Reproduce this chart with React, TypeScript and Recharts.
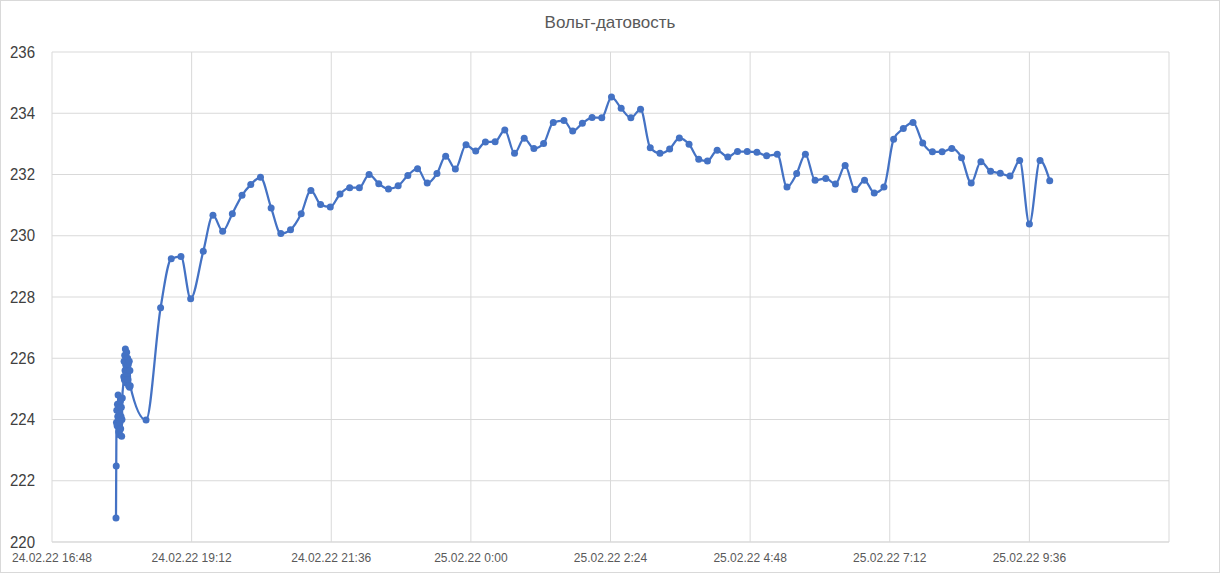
import { CartesianGrid, Line, LineChart, XAxis, YAxis } from "recharts";

// x tick labels (one every 2h24m) and y ticks
const tickLabels = [
  "24.02.22 16:48",
  "24.02.22 19:12",
  "24.02.22 21:36",
  "25.02.22 0:00",
  "25.02.22 2:24",
  "25.02.22 4:48",
  "25.02.22 7:12",
  "25.02.22 9:36",
];
const yTicks = [220, 222, 224, 226, 228, 230, 232, 234, 236];

// measurement times
const times = [
  "24.02.22 17:54:00", "24.02.22 17:54:15", "24.02.22 17:54:30", "24.02.22 17:54:50",
  "24.02.22 17:55:10", "24.02.22 17:55:30", "24.02.22 17:55:50", "24.02.22 17:56:10",
  "24.02.22 17:56:30", "24.02.22 17:56:50", "24.02.22 17:57:10", "24.02.22 17:57:30",
  "24.02.22 17:57:50", "24.02.22 17:58:10", "24.02.22 17:58:30", "24.02.22 17:58:50",
  "24.02.22 17:59:10", "24.02.22 17:59:30", "24.02.22 17:59:50", "24.02.22 18:00:10",
  "24.02.22 18:00:30",
  "24.02.22 18:02:00", "24.02.22 18:02:20", "24.02.22 18:02:40", "24.02.22 18:03:00",
  "24.02.22 18:03:20", "24.02.22 18:03:40", "24.02.22 18:04:00", "24.02.22 18:04:20",
  "24.02.22 18:04:40", "24.02.22 18:05:00", "24.02.22 18:05:20", "24.02.22 18:05:40",
  "24.02.22 18:06:00", "24.02.22 18:06:20", "24.02.22 18:06:40", "24.02.22 18:07:00",
  "24.02.22 18:07:20", "24.02.22 18:07:40", "24.02.22 18:08:00", "24.02.22 18:08:20",
  "24.02.22 18:08:40",
  "24.02.22 18:25", "24.02.22 18:40", "24.02.22 18:51", "24.02.22 19:01",
  "24.02.22 19:11", "24.02.22 19:24", "24.02.22 19:34", "24.02.22 19:44",
  "24.02.22 19:54", "24.02.22 20:04", "24.02.22 20:13", "24.02.22 20:23",
  "24.02.22 20:34", "24.02.22 20:44", "24.02.22 20:54", "24.02.22 21:05",
  "24.02.22 21:15", "24.02.22 21:25", "24.02.22 21:35", "24.02.22 21:45",
  "24.02.22 21:55", "24.02.22 22:05", "24.02.22 22:15", "24.02.22 22:25",
  "24.02.22 22:35", "24.02.22 22:45", "24.02.22 22:55", "24.02.22 23:05",
  "24.02.22 23:15", "24.02.22 23:25", "24.02.22 23:34", "24.02.22 23:44",
  "24.02.22 23:55", "25.02.22 0:05", "25.02.22 0:15", "25.02.22 0:25",
  "25.02.22 0:35", "25.02.22 0:45", "25.02.22 0:55", "25.02.22 1:05",
  "25.02.22 1:15", "25.02.22 1:25", "25.02.22 1:36", "25.02.22 1:45",
  "25.02.22 1:55", "25.02.22 2:05", "25.02.22 2:15", "25.02.22 2:25",
  "25.02.22 2:35", "25.02.22 2:45", "25.02.22 2:55", "25.02.22 3:05",
  "25.02.22 3:15", "25.02.22 3:25", "25.02.22 3:35", "25.02.22 3:45",
  "25.02.22 3:55", "25.02.22 4:04", "25.02.22 4:14", "25.02.22 4:25",
  "25.02.22 4:35", "25.02.22 4:45", "25.02.22 4:55", "25.02.22 5:05",
  "25.02.22 5:16", "25.02.22 5:26", "25.02.22 5:36", "25.02.22 5:45",
  "25.02.22 5:55", "25.02.22 6:06", "25.02.22 6:16", "25.02.22 6:26",
  "25.02.22 6:36", "25.02.22 6:46", "25.02.22 6:56", "25.02.22 7:06",
  "25.02.22 7:16", "25.02.22 7:26", "25.02.22 7:36", "25.02.22 7:46",
  "25.02.22 7:56", "25.02.22 8:06", "25.02.22 8:16", "25.02.22 8:26",
  "25.02.22 8:36", "25.02.22 8:46", "25.02.22 8:56", "25.02.22 9:06",
  "25.02.22 9:16", "25.02.22 9:26", "25.02.22 9:36", "25.02.22 9:47",
  "25.02.22 9:57",
];

// voltage, V
const volts = [
  220.78, 222.48, 223.9, 224.3,
  223.8, 224.5, 224.1, 224.8,
  224.0, 223.6, 224.4, 223.5,
  224.2, 223.9, 224.6, 223.7,
  224.1, 224.4, 223.45, 224.0,
  224.7,
  225.4, 225.9, 225.3, 226.1,
  225.6, 226.3, 225.8, 225.2,
  225.9, 226.2, 225.5, 225.7,
  226.0, 225.3, 225.8, 225.1,
  225.6, 225.9, 225.05, 225.6,
  225.1,
  223.98, 227.65, 229.25, 229.32,
  227.94, 229.49, 230.67, 230.15,
  230.72, 231.32, 231.67, 231.91,
  230.91, 230.07, 230.2, 230.72,
  231.48, 231.02, 230.94, 231.36,
  231.57, 231.57, 232.0, 231.7,
  231.53, 231.63, 231.97, 232.19,
  231.72, 232.03, 232.6, 232.18,
  232.97, 232.77, 233.06, 233.07,
  233.45, 232.69, 233.18, 232.85,
  233.01, 233.7, 233.76, 233.42,
  233.67, 233.86, 233.85, 234.53,
  234.16, 233.85, 234.13, 232.87,
  232.69, 232.83, 233.19, 232.99,
  232.5, 232.44, 232.79, 232.57,
  232.75, 232.75, 232.73, 232.61,
  232.66, 231.59, 232.03, 232.66,
  231.81, 231.87, 231.69, 232.29,
  231.51, 231.81, 231.4, 231.59,
  233.15, 233.5, 233.7, 233.03,
  232.74, 232.74, 232.85, 232.55,
  231.72, 232.42, 232.11, 232.04,
  231.95, 232.46, 230.38, 232.46,
  231.8,
];

const START = 24 * 1440 + 16 * 60 + 48;

// "dd.mm.yy h:mm[:ss]" -> minutes since 24.02.22 16:48
function toMin(s: string) {
  const [date, time] = s.split(" ");
  const day = Number(date.split(".")[0]);
  const [h, m, sec] = time.split(":").map(Number);
  return day * 1440 + h * 60 + m + (sec || 0) / 60 - START;
}

const tickTimes = tickLabels.map(toMin);
const data = times.map((t, i) => ({ t: toMin(t), v: volts[i] }));

const BLUE = "#4472C4";
const GRID = "#d9d9d9";
const NARROW = '"Liberation Sans Narrow", "Arial Narrow", "Liberation Sans", sans-serif';

// narrow, tall digits like the Excel axis
function YTick({ x, y, payload }: any) {
  return (
    <text
      x={x}
      y={y}
      dy="0.35em"
      textAnchor="end"
      fill="#404040"
      fontSize={16}
      fontFamily={NARROW}
      textLength={25}
      lengthAdjust="spacingAndGlyphs"
    >
      {payload.value}
    </text>
  );
}

export default function App() {
  return (
    <div style={{ position: "absolute", left: 0, top: 0, width: 1220, height: 573, background: "#fff" }}>
      <div
        style={{
          position: "absolute",
          left: 0,
          top: 0,
          width: 1220,
          height: 573,
          boxSizing: "border-box",
          border: `1px solid ${GRID}`,
          pointerEvents: "none",
        }}
      />
      <div
        style={{
          position: "absolute",
          top: 13,
          left: 0,
          width: 1220,
          textAlign: "center",
          fontFamily: NARROW,
          fontSize: 17,
          color: "#595959",
        }}
      >
        Вольт-датовость
      </div>
      <LineChart width={1220} height={573} data={data} margin={{ top: 52, right: 51, bottom: 0, left: 0 }}>
        <CartesianGrid stroke={GRID} />
        <XAxis
          dataKey="t"
          type="number"
          domain={[0, 1152]}
          ticks={tickTimes}
          interval={0}
          height={31}
          tickFormatter={(v: number) => tickLabels[tickTimes.indexOf(v)] ?? ""}
          tick={{ fill: "#595959", fontSize: 12, fontFamily: "Liberation Sans, Arial, sans-serif" }}
          axisLine={{ stroke: GRID }}
          tickLine={false}
          tickSize={0}
          tickMargin={11}
        />
        <YAxis
          type="number"
          domain={[220, 236]}
          ticks={yTicks}
          interval={0}
          width={52}
          tick={<YTick />}
          axisLine={false}
          tickLine={false}
          tickSize={0}
          tickMargin={17}
        />
        <Line
          type="monotone"
          dataKey="v"
          stroke={BLUE}
          strokeWidth={2.25}
          dot={{ r: 3.5, fill: BLUE, stroke: BLUE, strokeWidth: 0 }}
          activeDot={false}
          isAnimationActive={false}
        />
      </LineChart>
    </div>
  );
}
